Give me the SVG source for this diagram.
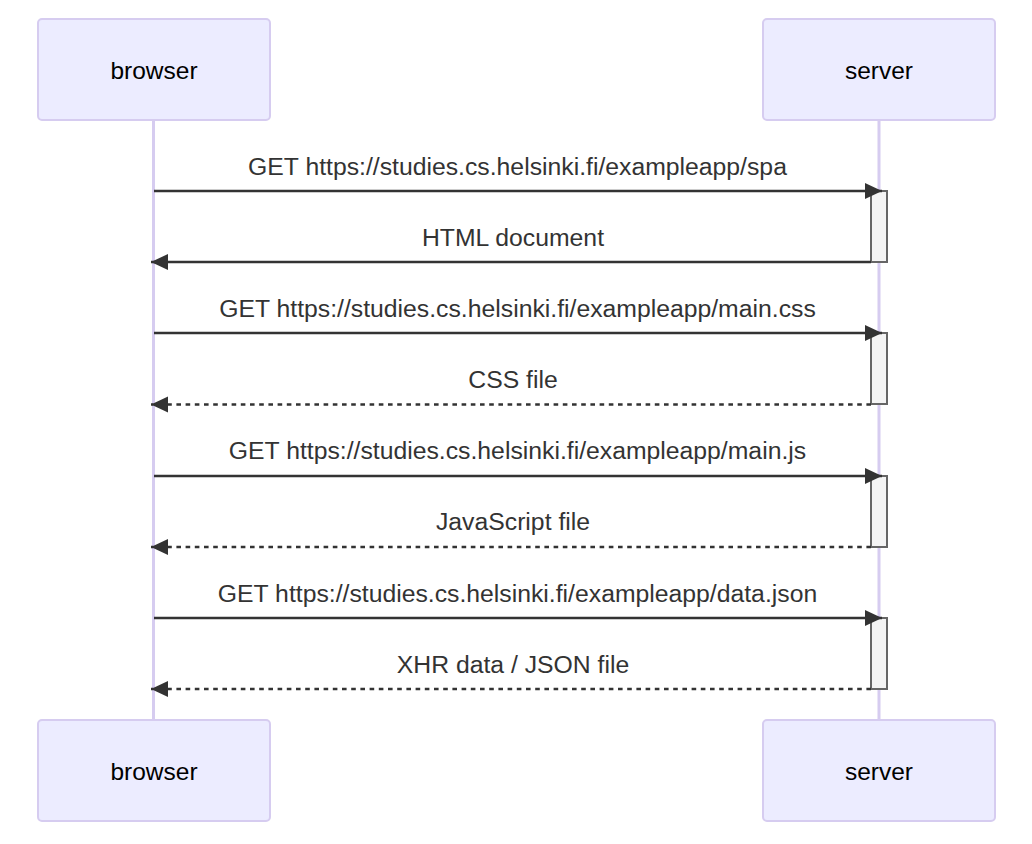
<svg xmlns="http://www.w3.org/2000/svg" width="1032" height="844" viewBox="0 0 1032 844">
<style>
.actor{fill:#ECECFF;stroke:#d6ccf0;stroke-width:2}
.atext{font-family:"Liberation Sans",Arial,sans-serif;font-size:24.5px;fill:#000;text-anchor:middle}
.life{stroke:#d6ccf0;stroke-width:3}
.msg{stroke:#333;stroke-width:2.3;fill:none}
.dash{stroke-dasharray:4.6,4.6}
.mtext{font-family:"Liberation Sans",Arial,sans-serif;font-size:24.75px;fill:#333;text-anchor:middle}
.act{fill:#f4f4f4;stroke:#666;stroke-width:2}
</style>
<defs>
<marker id="ah" markerUnits="userSpaceOnUse" markerWidth="18" markerHeight="18" refX="17" refY="8" orient="auto">
<path d="M0,0 L17,8 L0,16 z" fill="#333"/>
</marker>
</defs>
<rect width="1032" height="844" fill="#fff"/>
<g id="lifelines">
<line class="life" x1="153.5" y1="120" x2="153.5" y2="720"/>
<line class="life" x1="879" y1="120" x2="879" y2="720"/>
</g>
<g id="browser-top"><rect class="actor" x="38" y="19" width="232" height="101" rx="4"/><text class="atext" x="154" y="79">browser</text></g>
<g id="server-top"><rect class="actor" x="763" y="19" width="232" height="101" rx="4"/><text class="atext" x="879" y="79">server</text></g>
<g id="browser-bottom"><rect class="actor" x="38" y="720" width="232" height="101" rx="4"/><text class="atext" x="154" y="780">browser</text></g>
<g id="server-bottom"><rect class="actor" x="763" y="720" width="232" height="101" rx="4"/><text class="atext" x="879" y="780">server</text></g>
<g id="activations">
<rect class="act" x="871" y="191" width="16" height="71"/>
<rect class="act" x="871" y="333" width="16" height="71"/>
<rect class="act" x="871" y="476" width="16" height="71"/>
<rect class="act" x="871" y="618" width="16" height="71"/>
</g>
<g id="connectors">
<line class="msg" x1="154" y1="191" x2="882" y2="191" marker-end="url(#ah)"/>
<text class="mtext" x="517.5" y="175">GET https://studies.cs.helsinki.fi/exampleapp/spa</text>
<line class="msg" x1="871" y1="262" x2="151" y2="262" marker-end="url(#ah)"/>
<text class="mtext" x="513" y="246">HTML document</text>
<line class="msg" x1="154" y1="333" x2="882" y2="333" marker-end="url(#ah)"/>
<text class="mtext" x="517.5" y="317">GET https://studies.cs.helsinki.fi/exampleapp/main.css</text>
<line class="msg dash" x1="871" y1="404.5" x2="151" y2="404.5" marker-end="url(#ah)"/>
<text class="mtext" x="513" y="388">CSS file</text>
<line class="msg" x1="154" y1="476" x2="882" y2="476" marker-end="url(#ah)"/>
<text class="mtext" x="517.5" y="459">GET https://studies.cs.helsinki.fi/exampleapp/main.js</text>
<line class="msg dash" x1="871" y1="547" x2="151" y2="547" marker-end="url(#ah)"/>
<text class="mtext" x="513" y="530">JavaScript file</text>
<line class="msg" x1="154" y1="618" x2="882" y2="618" marker-end="url(#ah)"/>
<text class="mtext" x="517.5" y="602">GET https://studies.cs.helsinki.fi/exampleapp/data.json</text>
<line class="msg dash" x1="871" y1="689" x2="151" y2="689" marker-end="url(#ah)"/>
<text class="mtext" x="513" y="673">XHR data / JSON file</text>
</g>
</svg>
